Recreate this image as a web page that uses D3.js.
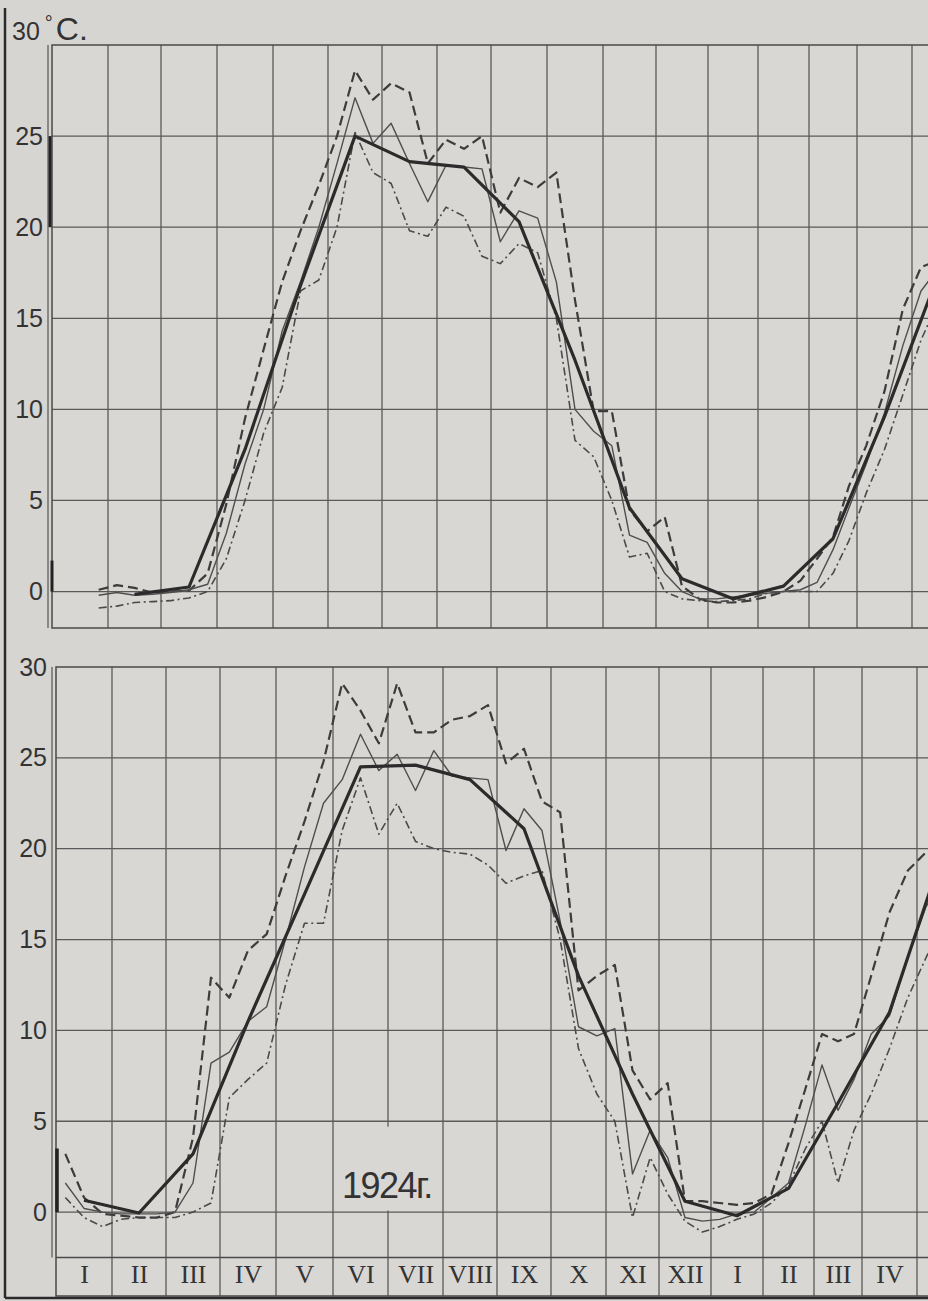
<!DOCTYPE html>
<html>
<head>
<meta charset="utf-8">
<script src="https://cdn.jsdelivr.net/npm/d3@7"></script>
<style>
  body { margin: 0; background: #d7d5d2; }
  svg { display: block; }
</style>
</head>
<body>
<svg id="chart" width="928" height="1301"></svg>
<script>
// month names along the bottom strip (Jan 1924 .. Apr 1925)
const monthLabels = ["I","II","III","IV","V","VI","VII","VIII","IX","X","XI","XII","I","II","III","IV"];
const topTicks = [0, 5, 10, 15, 20, 25];
const bottomTicks = [0, 5, 10, 15, 20, 25, 30];

// upper panel: ten-day values, first one is the 3rd decade of January
const topStart = 2;
const topThin = [
  -0.2,
  -0.05, -0.2, -0.15,
  -0.05, 0.1, 0.4,
  3.2, 7.0, 10.0,
  14.3, 17.0, 20.0,
  23.5, 27.1, 24.6,
  25.7, 23.5, 21.4,
  23.4, 23.3, 23.2,
  19.2, 20.9, 20.5,
  17.0, 10.0, 8.8,
  8.0, 3.1, 2.7,
  1.0, 0.0, -0.4,
  -0.4, -0.3, -0.2,
  -0.1, 0.0, 0.1,
  0.5, 2.3, 4.6,
  7.0, 9.8, 13.5,
  16.5, 17.8
];
const topDashed = [
  0.1,
  0.35, 0.2, -0.05,
  0.0, 0.05, 1.0,
  4.8, 9.5, 13.3,
  17.0, 19.8, 22.3,
  25.0, 28.6, 27.0,
  27.9, 27.4, 23.5,
  24.8, 24.3, 25.0,
  20.8, 22.7, 22.2,
  23.0, 16.0, 9.9,
  9.9, 4.5, 3.3,
  4.1, 0.3, -0.4,
  -0.6, -0.6, -0.5,
  -0.3, 0.0, 0.6,
  1.8, 3.0, 5.8,
  8.0, 11.0, 15.5,
  17.8, 18.2
];
const topDashDot = [
  -0.9,
  -0.8, -0.6, -0.55,
  -0.5, -0.35, 0.0,
  1.8, 5.0, 8.7,
  11.2, 16.5, 17.1,
  20.0, 25.2, 23.0,
  22.4, 19.8, 19.5,
  21.1, 20.6, 18.4,
  18.0, 19.1, 18.6,
  15.0, 8.3, 7.4,
  5.0, 1.9, 2.1,
  0.0, -0.4, -0.5,
  -0.55, -0.5, -0.4,
  -0.1, 0.0, 0.0,
  0.0, 1.0, 2.8,
  5.4, 7.8, 10.8,
  13.8, 16.0
];
// monthly means, plotted in the middle of the month
const topMeanMonths = [1.5, 2.5, 3.5, 4.5, 5.5, 6.5, 7.5, 8.5, 9.5, 10.5, 11.5, 12.5, 13.5, 14.5, 15.5, 16.5];
const topMean = [-0.15, 0.25, 7.8, 16.8, 25.0, 23.6, 23.3, 20.3, 12.7, 4.6, 0.7, -0.4, 0.3, 2.9, 9.6, 17.5];

// lower panel (1924): ten-day values from the 1st decade of January
const bottomStart = 0;
const bottomThin = [
  1.6, 0.2, 0.0,
  -0.1, -0.1, -0.1,
  0.0, 1.6, 8.2,
  8.8, 10.5, 11.3,
  15.0, 19.0, 22.5,
  23.8, 26.3, 24.3,
  25.2, 23.2, 25.4,
  24.0, 23.9, 23.8,
  19.9, 22.2, 21.0,
  16.0, 10.2, 9.7,
  10.1, 2.1, 4.5,
  3.0, -0.3, -0.5,
  -0.4, -0.1, 0.0,
  0.8, 1.6, 4.8,
  8.1, 5.6, 7.3,
  9.8, 10.8, 14.0,
  16.8, 18.5
];
const bottomDashed = [
  3.2, 0.8, -0.1,
  -0.2, -0.3, -0.3,
  0.0, 4.1, 12.9,
  11.8, 14.4, 15.3,
  18.5, 21.5, 24.8,
  29.1, 27.6, 25.8,
  29.1, 26.4, 26.4,
  27.1, 27.3, 27.9,
  24.7, 25.5, 22.6,
  22.0, 12.2, 13.0,
  13.6, 7.8, 6.2,
  7.1, 0.6, 0.6,
  0.5, 0.4, 0.5,
  1.0, 3.8, 6.8,
  9.8, 9.4, 9.8,
  13.0, 16.5, 18.8,
  19.8, 20.2
];
const bottomDashDot = [
  0.8, -0.3, -0.8,
  -0.4, -0.3, -0.3,
  -0.3, 0.0, 0.5,
  6.3, 7.3, 8.2,
  12.5, 15.9, 15.9,
  21.0, 23.9, 20.8,
  22.5, 20.4, 20.0,
  19.8, 19.7, 19.1,
  18.1, 18.5, 18.8,
  15.0, 9.0, 6.5,
  5.0, -0.3, 3.0,
  1.0, -0.5, -1.1,
  -0.8, -0.4, -0.1,
  0.5, 1.5, 3.5,
  5.0, 1.6, 4.5,
  6.5, 9.0, 11.8,
  14.0, 16.0
];
const bottomMeanMonths = [0.5, 1.5, 2.5, 3.5, 4.5, 5.5, 6.5, 7.5, 8.5, 9.5, 10.5, 11.5, 12.5, 13.5, 14.5, 15.5, 16.5];
const bottomMean = [0.65, -0.05, 3.2, 10.5, 17.5, 24.5, 24.6, 23.8, 21.1, 13.0, 6.5, 0.6, -0.2, 1.3, 6.0, 11.0, 20.0];

const yearLabel = "1924г.";

// ---------------------------------------------------------------
const svg = d3.select("#chart");
const ink = "#333";
const paper = "#d9d7d4";

svg.append("rect").attr("width", 928).attr("height", 1301).attr("fill", "#d7d5d2");

// decade k of the year-long run -> position in months
const decades = (start, vals) => vals.map((t, k) => {
  const i = start + k;
  return {m: Math.floor(i / 3) + ((i % 3) + 0.5) / 3, t: t};
});
const monthly = (months, vals) => vals.map((t, k) => ({m: months[k], t: t}));

// the printed grid is not quite even, so the month scale is piecewise
const topX = d3.scaleLinear().domain(d3.range(18))
  .range([52, 108, 161, 217, 273, 328, 382, 437, 491, 547, 603, 656, 708, 758, 809, 857, 912, 966]);
const topY = d3.scaleLinear().domain([-2, 30]).range([628, 45]);

const bottomX = d3.scaleLinear().domain(d3.range(18))
  .range([56, 112, 166, 220, 276, 333, 388, 443, 497, 551, 606, 659, 711, 763, 814, 862, 917, 971]);
const bottomY = d3.scaleLinear().domain([-2.5, 30]).range([1257.5, 667]);

const styles = {
  mean:    {w: 3.2, c: "#2b2b2b", dash: null},
  thin:    {w: 1.4, c: "#4e4e4e", dash: null},
  dashed:  {w: 2.2, c: "#3c3c3c", dash: "10,5"},
  dashDot: {w: 1.6, c: "#4a4a4a", dash: "8,3.5,2,3.5"}
};

function panel(id, x, y, ticks, frameBottom, series) {
  const g = svg.append("g");
  const x0 = x(0), yTop = y(30), yBot = frameBottom;

  g.append("rect").attr("x", x0).attr("y", yTop)
    .attr("width", 1000).attr("height", yBot - yTop).attr("fill", paper);

  // grid
  g.selectAll(".vgrid").data(d3.range(1, 18)).enter().append("line")
    .attr("x1", d => x(d)).attr("x2", d => x(d))
    .attr("y1", yTop).attr("y2", yBot)
    .attr("stroke", "#5a5a5a").attr("stroke-width", 1.3);
  g.selectAll(".hgrid").data(ticks.filter(t => t < 30)).enter().append("line")
    .attr("x1", x0).attr("x2", 940)
    .attr("y1", d => y(d)).attr("y2", d => y(d))
    .attr("stroke", "#5a5a5a").attr("stroke-width", 1.3);

  // frame, double rule on the left
  g.append("rect").attr("x", x0).attr("y", yTop)
    .attr("width", 1000).attr("height", yBot - yTop)
    .attr("fill", "none").attr("stroke", "#4a4a4a").attr("stroke-width", 1.5);
  g.append("line").attr("x1", x0 - 4).attr("x2", x0 - 4)
    .attr("y1", yTop).attr("y2", y(y.domain()[0]))
    .attr("stroke", "#555").attr("stroke-width", 1.2);

  const axis = g.append("g").attr("transform", `translate(${x0 - 7},0)`)
    .call(d3.axisLeft(y).tickValues(ticks).tickSize(0).tickPadding(2));
  axis.select(".domain").remove();
  axis.selectAll("text")
    .attr("font-family", "Liberation Sans, Arial, sans-serif")
    .attr("font-size", 25).attr("fill", ink);

  const clipId = "clip-" + id;
  svg.append("clipPath").attr("id", clipId).append("rect")
    .attr("x", x0).attr("y", yTop).attr("width", 1000).attr("height", y(y.domain()[0]) - yTop);

  const line = d3.line().x(d => x(d.m)).y(d => y(d.t));
  const lg = g.append("g").attr("clip-path", `url(#${clipId})`);
  series.forEach(s => {
    const st = styles[s.kind];
    lg.append("path").datum(s.data)
      .attr("d", line)
      .attr("fill", "none")
      .attr("stroke", st.c)
      .attr("stroke-width", st.w)
      .attr("stroke-linejoin", "round")
      .attr("stroke-dasharray", st.dash);
  });
  return g;
}

const gTop = panel("top", topX, topY, topTicks, 628, [
  {kind: "dashDot", data: decades(topStart, topDashDot)},
  {kind: "dashed", data: decades(topStart, topDashed)},
  {kind: "thin", data: decades(topStart, topThin)},
  {kind: "mean", data: monthly(topMeanMonths, topMean)}
]);
// heavier bits of the left rule as printed
gTop.append("line").attr("x1", 50).attr("x2", 50).attr("y1", topY(25)).attr("y2", topY(20))
  .attr("stroke", "#222").attr("stroke-width", 3);
gTop.append("line").attr("x1", 52).attr("x2", 52).attr("y1", topY(1.7)).attr("y2", topY(0))
  .attr("stroke", "#222").attr("stroke-width", 3);

const gBot = panel("bottom", bottomX, bottomY, bottomTicks, 1296, [
  {kind: "dashDot", data: decades(bottomStart, bottomDashDot)},
  {kind: "dashed", data: decades(bottomStart, bottomDashed)},
  {kind: "thin", data: decades(bottomStart, bottomThin)},
  {kind: "mean", data: monthly(bottomMeanMonths, bottomMean)}
]);
gBot.append("line").attr("x1", 57).attr("x2", 57).attr("y1", bottomY(3.5)).attr("y2", bottomY(0))
  .attr("stroke", "#222").attr("stroke-width", 3.5);

// strip with month names under the lower panel
gBot.append("line").attr("x1", bottomX(0)).attr("x2", 940)
  .attr("y1", bottomY(-2.5)).attr("y2", bottomY(-2.5))
  .attr("stroke", "#4a4a4a").attr("stroke-width", 1.5);
const monthAxis = gBot.append("g").attr("transform", `translate(0,${bottomY(-2.5)})`)
  .call(d3.axisBottom(bottomX)
    .tickValues(d3.range(monthLabels.length).map(m => m + 0.5))
    .tickFormat((d, i) => monthLabels[i])
    .tickSize(0).tickPadding(7));
monthAxis.select(".domain").remove();
monthAxis.selectAll("text")
  .attr("font-family", "Liberation Serif, Times New Roman, serif")
  .attr("font-size", 26).attr("fill", ink);

// year label sits on a blank patch of paper
gBot.append("rect")
  .attr("x", bottomX(5) + 4).attr("y", bottomY(4.7))
  .attr("width", bottomX(7) - bottomX(5) - 8).attr("height", bottomY(0) - bottomY(4.7) - 1.5)
  .attr("fill", paper);
gBot.append("text")
  .attr("x", 342).attr("y", 1198)
  .attr("font-family", "Liberation Sans, Arial, sans-serif")
  .attr("font-size", 36).attr("letter-spacing", -1.5)
  .attr("fill", ink).text(yearLabel);

// unit label above the upper panel
const unit = svg.append("text").attr("x", 12).attr("y", 40)
  .attr("font-family", "Liberation Sans, Arial, sans-serif").attr("fill", ink);
unit.append("tspan").attr("font-size", 25).text("30");
unit.append("tspan").attr("font-size", 20).attr("dx", 5).attr("dy", -10).text("°");
unit.append("tspan").attr("font-size", 32).attr("dx", 3).attr("dy", 10).text("C.");

// page edge of the photo
svg.append("line").attr("x1", 5).attr("x2", 5).attr("y1", 8).attr("y2", 1298)
  .attr("stroke", "#2a2a2a").attr("stroke-width", 2.5);
svg.append("line").attr("x1", 5).attr("x2", 928).attr("y1", 1298).attr("y2", 1298)
  .attr("stroke", "#2a2a2a").attr("stroke-width", 2.5);
</script>
</body>
</html>
